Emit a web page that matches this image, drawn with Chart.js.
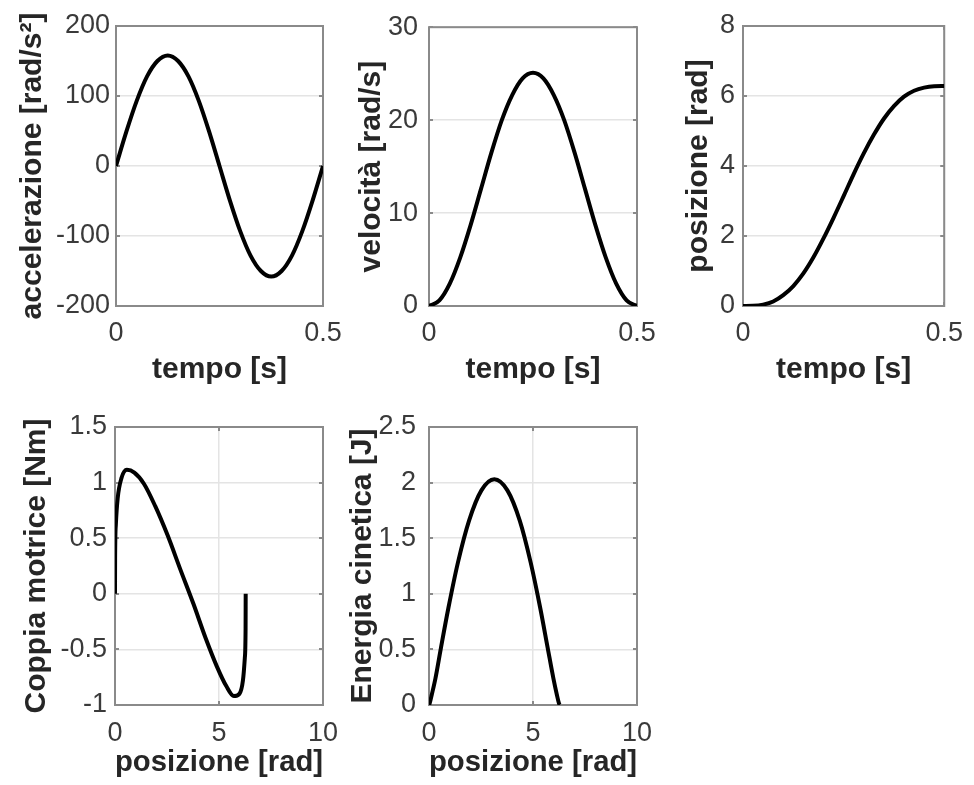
<!DOCTYPE html>
<html>
<head>
<meta charset="utf-8">
<script src="https://cdn.jsdelivr.net/npm/chart.js@4.4.1/dist/chart.umd.min.js"></script>
<style>
  html, body { margin: 0; padding: 0; background: #ffffff; }
  #wrap { position: relative; width: 974px; height: 785px; background: #ffffff; overflow: hidden; }
  #wrap canvas { position: absolute; left: 0; top: 0; }
</style>
</head>
<body>
<div id="wrap">
  <canvas id="c1" width="974" height="785"></canvas>
  <canvas id="c2" width="974" height="785"></canvas>
  <canvas id="c3" width="974" height="785"></canvas>
  <canvas id="c4" width="974" height="785"></canvas>
  <canvas id="c5" width="974" height="785"></canvas>
</div>
<script>
// ---- data (samples every 0.025 s) ----
const tempo = [0, 0.025, 0.05, 0.075, 0.1, 0.125, 0.15, 0.175, 0.2, 0.225, 0.25,
               0.275, 0.3, 0.325, 0.35, 0.375, 0.4, 0.425, 0.45, 0.475, 0.5];
const accelerazione = [0, 49, 93, 128, 150, 158, 150, 128, 93, 49, 0,
                       -49, -93, -128, -150, -158, -150, -128, -93, -49, 0];
const velocita = [0, 0.6, 2.4, 5.2, 8.7, 12.6, 16.5, 20.0, 22.7, 24.5, 25.1,
                  24.5, 22.7, 20.0, 16.5, 12.6, 8.7, 5.2, 2.4, 0.6, 0];
const posizione = [0, 0.005, 0.04, 0.13, 0.31, 0.57, 0.93, 1.39, 1.93, 2.52, 3.14,
                   3.77, 4.36, 4.89, 5.35, 5.71, 5.98, 6.15, 6.24, 6.278, 6.283];
const coppia = [0, 0.32, 0.62, 0.86, 1.04, 1.115, 1.09, 0.99, 0.79, 0.53, 0.22,
                -0.09, -0.40, -0.65, -0.83, -0.92, -0.90, -0.78, -0.58, -0.31, 0];
const energia = [0, 0.001, 0.02, 0.09, 0.24, 0.51, 0.87, 1.28, 1.66, 1.93, 2.03,
                 1.93, 1.66, 1.28, 0.87, 0.51, 0.24, 0.09, 0.02, 0.001, 0];

// ---- tick labels ----
const ticksTempo = [0, 0.5];
const ticksAcc = [-200, -100, 0, 100, 200];
const ticksVel = [0, 10, 20, 30];
const ticksPos = [0, 2, 4, 6, 8];
const ticksPosX = [0, 5, 10];
const ticksCoppia = [-1, -0.5, 0, 0.5, 1, 1.5];
const ticksEnergia = [0, 0.5, 1, 1.5, 2, 2.5];

// ---- axis titles ----
const titleTempo = 'tempo [s]';
const titlePosX = 'posizione [rad]';
const titleAcc = 'accelerazione [rad/s²]';
const titleVel = 'velocità [rad/s]';
const titlePos = 'posizione [rad]';
const titleCoppia = 'Coppia motrice [Nm]';
const titleEnergia = 'Energia cinetica [J]';

// ---- styling ----
const FONT = "'Liberation Sans', Arial, Helvetica, sans-serif";
const AXIS_COLOR = '#8a8a8a';
const GRID_COLOR = '#e4e4e4';
const TICK_COLOR = '#3a3a3a';
const TITLE_COLOR = '#262626';
const TICK_SIZE = 27;
const TITLE_SIZE = 30;

const boxPlugin = {
  id: 'box',
  beforeDatasetsDraw(chart) {
    const { ctx, chartArea: a, scales } = chart;
    ctx.save();
    ctx.strokeStyle = AXIS_COLOR;
    ctx.lineWidth = 2;
    ctx.beginPath();
    const L = 4;
    scales.x.ticks.forEach(t => {
      const p = Math.round(scales.x.getPixelForValue(t.value));
      ctx.moveTo(p, a.bottom); ctx.lineTo(p, a.bottom - L);
      ctx.moveTo(p, a.top); ctx.lineTo(p, a.top + L);
    });
    scales.y.ticks.forEach(t => {
      const p = Math.round(scales.y.getPixelForValue(t.value));
      ctx.moveTo(a.left, p); ctx.lineTo(a.left + L, p);
      ctx.moveTo(a.right, p); ctx.lineTo(a.right - L, p);
    });
    ctx.stroke();
    ctx.strokeRect(a.left, a.top, a.right - a.left, a.bottom - a.top);
    ctx.restore();
  }
};

function makeChart(id, xs, ys, o) {
  const pts = xs.map((x, i) => ({ x: x, y: ys[i] }));
  return new Chart(document.getElementById(id), {
    type: 'scatter',
    data: { datasets: [{
      data: pts,
      showLine: true,
      borderColor: '#000000',
      borderWidth: 4,
      pointRadius: 0,
      cubicInterpolationMode: 'monotone',
      borderJoinStyle: 'round'
    }] },
    options: {
      responsive: false,
      animation: false,
      devicePixelRatio: 1,
      layout: { padding: { left: o.left, top: o.top, right: 974 - o.right, bottom: o.regionBottom } },
      plugins: { legend: { display: false }, tooltip: { enabled: false } },
      scales: {
        x: {
          type: 'linear',
          min: o.xTicks[0], max: o.xTicks[o.xTicks.length - 1],
          afterBuildTicks: s => { s.ticks = o.xTicks.map(v => ({ value: v })); },
          afterFit: s => { s.height = (785 - o.regionBottom) - o.bottom; },
          border: { display: false },
          grid: { color: GRID_COLOR, lineWidth: 1.5, drawTicks: false },
          ticks: {
            autoSkip: false, maxRotation: 0, padding: o.xTickPad,
            color: TICK_COLOR, font: { family: FONT, size: TICK_SIZE, lineHeight: 1.2 },
            callback: v => String(v)
          },
          title: {
            display: true, text: o.xTitle, color: TITLE_COLOR,
            font: { family: FONT, size: TITLE_SIZE, weight: 'bold', lineHeight: 1.2 },
            padding: { top: 0, bottom: o.xTitlePad }
          }
        },
        y: {
          type: 'linear',
          min: o.yTicks[0], max: o.yTicks[o.yTicks.length - 1],
          afterBuildTicks: s => { s.ticks = o.yTicks.map(v => ({ value: v })); },
          afterFit: s => { s.width = o.plotLeft - o.left; },
          border: { display: false },
          grid: { color: GRID_COLOR, lineWidth: 1.5, drawTicks: false },
          ticks: {
            autoSkip: false, padding: o.yTickPad,
            color: TICK_COLOR, font: { family: FONT, size: TICK_SIZE, lineHeight: 1.2 },
            callback: v => String(v)
          },
          title: {
            display: true, text: o.yTitle, color: TITLE_COLOR,
            font: { family: FONT, size: TITLE_SIZE, weight: 'bold', lineHeight: 1.2 },
            padding: { top: o.yTitlePad, bottom: 0 }
          }
        }
      }
    },
    plugins: [boxPlugin]
  });
}

// row 1
makeChart('c1', tempo, accelerazione, {
  left: 0, plotLeft: 116, right: 323, top: 26, bottom: 306, regionBottom: 390,
  xTicks: ticksTempo, yTicks: ticksAcc, xTitle: titleTempo, yTitle: titleAcc,
  xTickPad: 11, yTickPad: 6, xTitlePad: 7, yTitlePad: 15
});
makeChart('c2', tempo, velocita, {
  left: 330, plotLeft: 429, right: 637, top: 26, bottom: 306, regionBottom: 390,
  xTicks: ticksTempo, yTicks: ticksVel, xTitle: titleTempo, yTitle: titleVel,
  xTickPad: 11, yTickPad: 11, xTitlePad: 7, yTitlePad: 24
});
makeChart('c3', tempo, posizione, {
  left: 640, plotLeft: 743, right: 953, top: 26, bottom: 306, regionBottom: 390,
  xTicks: ticksTempo, yTicks: ticksPos, xTitle: titleTempo, yTitle: titlePos,
  xTickPad: 11, yTickPad: 8, xTitlePad: 7, yTitlePad: 41
});
// row 2
makeChart('c4', posizione, coppia, {
  left: 0, plotLeft: 115, right: 323, top: 427, bottom: 705, regionBottom: 0,
  xTicks: ticksPosX, yTicks: ticksCoppia, xTitle: titlePosX, yTitle: titleCoppia,
  xTickPad: 12, yTickPad: 8, xTitlePad: 4, yTitlePad: 19
});
makeChart('c5', posizione, energia, {
  left: 330, plotLeft: 429, right: 637, top: 427, bottom: 705, regionBottom: 0,
  xTicks: ticksPosX, yTicks: ticksEnergia, xTitle: titlePosX, yTitle: titleEnergia,
  xTickPad: 12, yTickPad: 13, xTitlePad: 4, yTitlePad: 15
});
</script>
</body>
</html>
